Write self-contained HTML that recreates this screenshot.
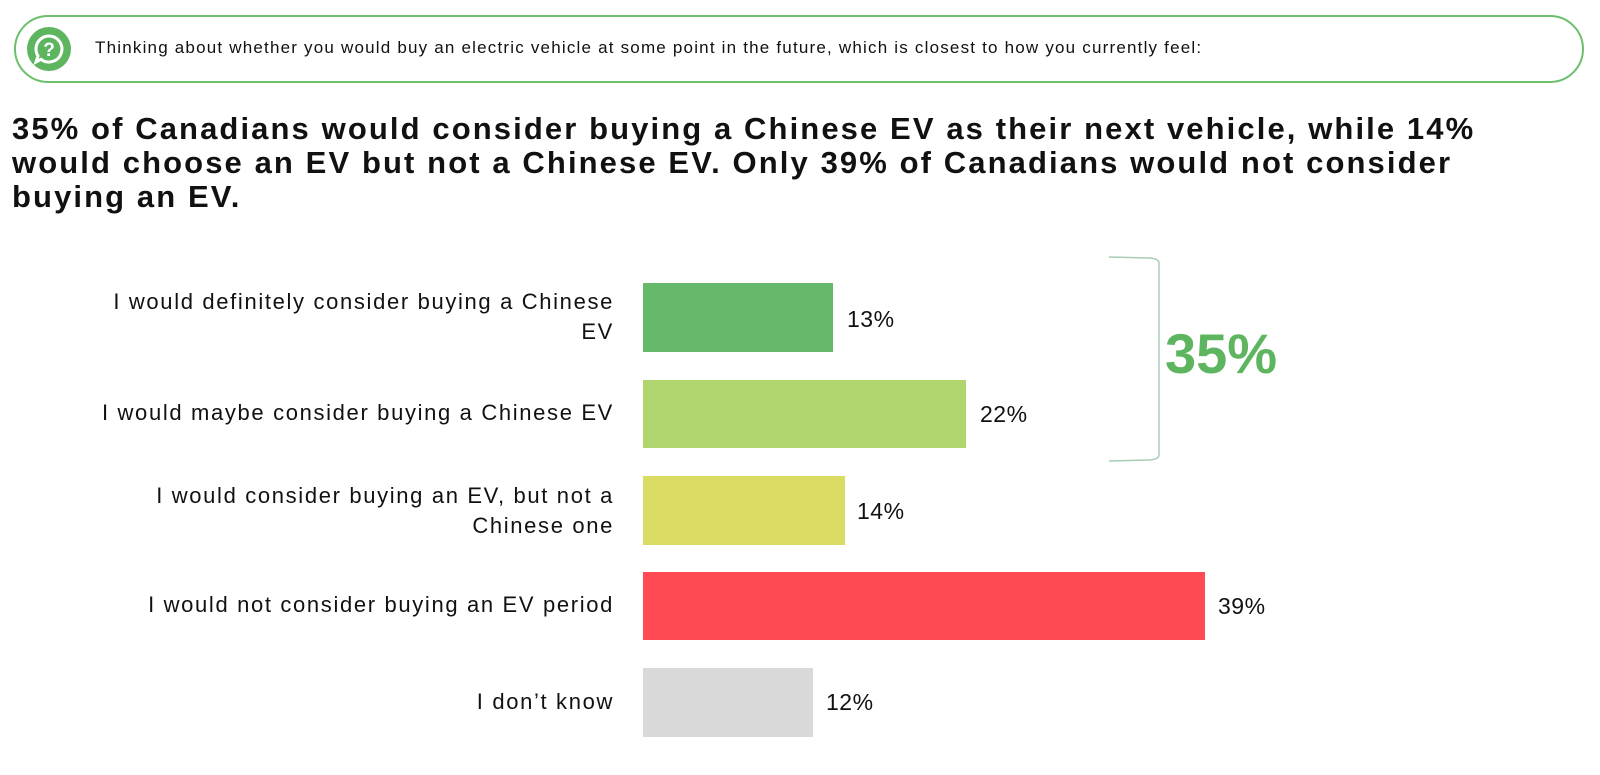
<!DOCTYPE html>
<html><head><style>
body{margin:0;width:1600px;height:775px;background:#fff;font-family:"Liberation Sans",sans-serif;position:relative;overflow:hidden;color:#111}
.box{position:absolute;left:14px;top:15px;width:1566px;height:64px;border:2px solid #6bbf6b;border-radius:34px}
.q{position:absolute;left:95px;top:38px;font-size:17px;letter-spacing:1.2px;color:#111;white-space:nowrap}
h1{position:absolute;left:12px;top:112px;margin:0;font-size:31px;letter-spacing:2.1px;line-height:34px;font-weight:bold;white-space:nowrap;color:#111}
.lbl{position:absolute;right:986px;text-align:right;font-size:22px;letter-spacing:1.65px;line-height:30px;color:#111;white-space:nowrap}
.bar{position:absolute;left:643px}
.v{position:absolute;font-size:23px;letter-spacing:0.5px;color:#111}
</style></head><body>
<div class="box"></div>
<svg style="position:absolute;left:26px;top:26px" width="46" height="46" viewBox="0 0 46 46">
<circle cx="23" cy="23" r="22" fill="#5eb560"/>
<path d="M23 10a13 13 0 1 1-8 23.3L10 36l2-6A13 13 0 0 1 23 10z" fill="none" stroke="#fff" stroke-width="3"/>
<text x="23" y="30" font-size="19" font-weight="bold" fill="#fff" text-anchor="middle" font-family="Liberation Sans">?</text>
</svg>
<div class="q">Thinking about whether you would buy an electric vehicle at some point in the future, which is closest to how you currently feel:</div>
<h1>35% of Canadians would consider buying a Chinese EV as their next vehicle, while 14%<br>would choose an EV but not a Chinese EV. Only 39% of Canadians would not consider<br>buying an EV.</h1>

<div class="lbl" style="top:287px">I would definitely consider buying a Chinese<br>EV</div>
<div class="bar" style="top:283px;width:190px;height:69px;background:#66b86a"></div>
<div class="v" style="left:847px;top:306px">13%</div>

<div class="lbl" style="top:398px">I would maybe consider buying a Chinese EV</div>
<div class="bar" style="top:380px;width:323px;height:68px;background:#b0d56e"></div>
<div class="v" style="left:980px;top:401px">22%</div>

<div class="lbl" style="top:481px">I would consider buying an EV, but not a<br>Chinese one</div>
<div class="bar" style="top:476px;width:202px;height:69px;background:#dadb62"></div>
<div class="v" style="left:857px;top:498px">14%</div>

<div class="lbl" style="top:590px">I would not consider buying an EV period</div>
<div class="bar" style="top:572px;width:562px;height:68px;background:#ff4a53"></div>
<div class="v" style="left:1218px;top:593px">39%</div>

<div class="lbl" style="top:687px">I don’t know</div>
<div class="bar" style="top:668px;width:170px;height:69px;background:#d9d9d9"></div>
<div class="v" style="left:826px;top:689px">12%</div>

<svg style="position:absolute;left:0;top:0" width="1600" height="775">
<path d="M1109 257 L1150 258 Q1159 259 1159 263 L1159 455 Q1159 459 1150 460 L1109 461" fill="none" stroke="#a9cdb5" stroke-width="1.5"/>
</svg>
<div style="position:absolute;left:1165px;top:321px;font-size:56px;font-weight:bold;color:#5eb560">35%</div>
</body></html>
